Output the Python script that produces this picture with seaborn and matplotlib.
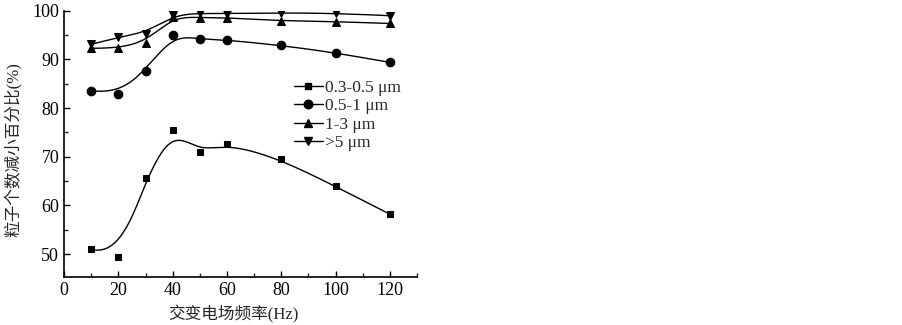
import numpy as np
import pandas as pd
import matplotlib
matplotlib.use("Agg")
import matplotlib.pyplot as plt
import seaborn as sns
from matplotlib.lines import Line2D
from matplotlib.ticker import MultipleLocator

sns.set_theme(style="ticks")
plt.rcParams['font.family'] = ['Liberation Serif', 'Noto Sans CJK SC']
plt.rcParams['mathtext.fontset'] = 'stix'

freq = [10, 20, 30, 40, 50, 60, 80, 100, 120]
s_03_05 = [51.0, 49.5, 65.6, 75.5, 71.0, 72.7, 69.6, 63.9, 58.2]
s_05_1 = [83.6, 82.9, 87.7, 95.0, 94.2, 94.0, 92.9, 91.4, 89.4]
s_1_3 = [92.3, 92.3, 93.4, 98.8, 98.6, 98.6, 97.9, 97.8, 97.4]
s_gt5 = [93.1, 94.6, 95.3, 99.1, 99.5, 99.4, 99.6, 99.5, 99.0]
labels = ['0.3-0.5 μm', '0.5-1 μm', '1-3 μm', '>5 μm']
markers = ['s', 'o', '^', 'v']
msizes = [4.5, 6.2, 5.5, 5.5]


def bspline_curve(px, py, npts=500, k=3):
    """Clamped cubic B-spline using the data points as control points."""
    px = np.asarray(px, float)
    py = np.asarray(py, float)
    n = len(px)
    t = np.concatenate([np.zeros(k), np.arange(n - k + 1), np.full(k, n - k)]).astype(float)
    u = np.linspace(0, n - k, npts)
    u[-1] -= 1e-9
    N = np.zeros((npts, len(t) - 1))
    for i in range(len(t) - 1):
        N[:, i] = ((t[i] <= u) & (u < t[i + 1])).astype(float)
    for d in range(1, k + 1):
        Nn = np.zeros((npts, len(t) - 1 - d))
        for i in range(len(t) - 1 - d):
            a = np.zeros(npts)
            b = np.zeros(npts)
            if t[i + d] > t[i]:
                a = (u - t[i]) / (t[i + d] - t[i]) * N[:, i]
            if t[i + d + 1] > t[i + 1]:
                b = (t[i + d + 1] - u) / (t[i + d + 1] - t[i + 1]) * N[:, i + 1]
            Nn[:, i] = a + b
        N = Nn
    return N @ px, N @ py


fig = plt.figure(figsize=(9.03, 3.25), dpi=100)
ax = fig.add_axes([0.0709, 0.1477, 0.391, 0.819])

handles = []
for vals, lab, mk, ms in zip([s_03_05, s_05_1, s_1_3, s_gt5], labels, markers, msizes):
    cx, cy = bspline_curve(freq, vals)
    sns.lineplot(x=cx, y=cy, ax=ax, color='black', lw=1.0, sort=False)
    sns.lineplot(x=freq, y=vals, ax=ax, color='black', lw=0, marker=mk,
                 markersize=ms, markeredgecolor='black', sort=False)
    handles.append(Line2D([], [], color='black', lw=1.0, marker=mk, markersize=ms, label=lab))

ax.set_xlim(0, 130)
ax.set_ylim(45.3, 100)
ax.set_xticks([0, 20, 40, 60, 80, 100, 120])
ax.set_yticks([50, 60, 70, 80, 90, 100])
ax.xaxis.set_minor_locator(MultipleLocator(10))
ax.yaxis.set_minor_locator(MultipleLocator(5))
ax.tick_params(which='major', direction='in', length=4, width=1, labelsize=13, colors='black')
ax.tick_params(which='minor', direction='in', length=3, width=1)
for s in ['top', 'right']:
    ax.spines[s].set_visible(False)
for s in ['left', 'bottom']:
    ax.spines[s].set_linewidth(1.2)
    ax.spines[s].set_color('black')

ax.set_xlabel('交变电场频率(Hz)', fontsize=12)
ax.set_ylabel('粒子个数减小百分比(%)', fontsize=12)
ax.xaxis.set_label_coords(0.479, -0.105)
ax.yaxis.set_label_coords(-0.119, 0.48)

leg = ax.legend(handles=handles, loc='upper left', bbox_to_anchor=(0.65, 0.74),
                frameon=False, fontsize=12.5, handlelength=1.7, handletextpad=0.1,
                labelspacing=0.12, borderaxespad=0, borderpad=0)

fig.savefig('out.png', dpi=100)
